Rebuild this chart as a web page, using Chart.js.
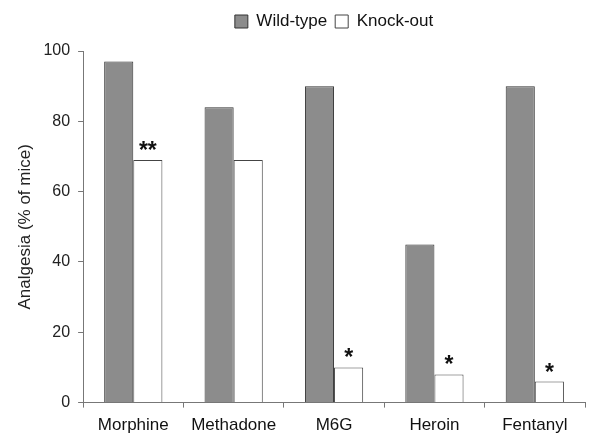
<!DOCTYPE html>
<html>
<head>
<meta charset="utf-8">
<script src="https://cdn.jsdelivr.net/npm/chart.js@4"></script>
<style>
  html, body { margin: 0; padding: 0; background: #fff; }
  #wrap { width: 600px; height: 445px; }
</style>
</head>
<body>
<div id="wrap"><canvas id="myChartCanvas"></canvas></div>
<script>
// Drugs tested
const drugs = ['Morphine', 'Methadone', 'M6G', 'Heroin', 'Fentanyl'];
// Analgesia (% of mice)
const wildType = [97, 84, 90, 45, 90];
const knockOut = [69, 69, 10, 8, 6];
// significance markers over the knock-out bars
const knockOutStars = ['**', '', '*', '*', '*'];
const yTicks = [0, 20, 40, 60, 80, 100];

const fontFamily = "'Liberation Sans', Arial, sans-serif";
Chart.defaults.font.family = fontFamily;
Chart.defaults.color = '#222';

// Draw the asterisks just above the knock-out bars
const starPlugin = {
  id: 'stars',
  afterDatasetsDraw(chart) {
    const meta = chart.getDatasetMeta(1);
    const ctx = chart.ctx;
    ctx.save();
    ctx.font = `bold 23px ${fontFamily}`;
    ctx.fillStyle = '#111';
    ctx.textAlign = 'center';
    ctx.textBaseline = 'alphabetic';
    meta.data.forEach((bar, i) => {
      if (knockOutStars[i]) ctx.fillText(knockOutStars[i], bar.x, bar.y - 2);
    });
    ctx.restore();
  }
};

// Push the plot down a bit below the legend
const legendGap = {
  id: 'legendGap',
  beforeInit(chart) {
    const fit = chart.legend.fit;
    chart.legend.fit = function () {
      fit.bind(chart.legend)();
      this.height += 11;
    };
  }
};

const canvas = document.getElementById('myChartCanvas');
new Chart(canvas, {
  type: 'bar',
  plugins: [starPlugin, legendGap],
  data: {
    labels: drugs,
    datasets: [
      {
        label: 'Wild-type',
        data: wildType,
        backgroundColor: '#8c8c8c',
        borderColor: '#333',
        borderWidth: 1,
      },
      {
        label: 'Knock-out',
        data: knockOut,
        backgroundColor: '#fff',
        borderColor: '#444',
        borderWidth: 1,
      },
    ],
  },
  options: {
    responsive: true,
    maintainAspectRatio: false,
    animation: false,
    datasets: {
      bar: { barPercentage: 1, categoryPercentage: 0.58 },
    },
    layout: { padding: { top: 5, right: 15, left: 11, bottom: 1 } },
    plugins: {
      tooltip: { enabled: false },
      legend: {
        position: 'top',
        fullSize: false,
        labels: {
          boxWidth: 13,
          boxHeight: 13,
          padding: 8,
          font: { size: 17 },
          color: '#111',
        },
      },
    },
    scales: {
      x: {
        grid: {
          display: true,
          drawOnChartArea: false,
          drawTicks: true,
          tickLength: 5,
          color: '#777',
          offset: true,
        },
        border: { color: '#777' },
        ticks: { font: { size: 17 }, color: '#111', padding: 8 },
      },
      y: {
        min: 0,
        max: 100,
        afterBuildTicks: (axis) => {
          axis.ticks = yTicks.map((v) => ({ value: v }));
        },
        grid: {
          display: true,
          drawOnChartArea: false,
          drawTicks: true,
          tickLength: 5,
          color: '#777',
        },
        border: { color: '#777' },
        ticks: { font: { size: 16 }, color: '#222', padding: 8 },
        title: {
          display: true,
          text: 'Analgesia (% of mice)',
          font: { size: 17 },
          color: '#222',
          padding: { top: 4, bottom: 0 },
        },
      },
    },
  },
});
</script>
</body>
</html>
